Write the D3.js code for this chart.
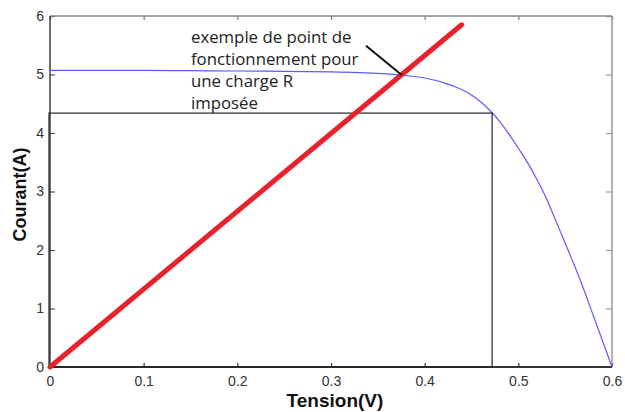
<!DOCTYPE html>
<html>
<head>
<meta charset="utf-8">
<script src="https://cdn.jsdelivr.net/npm/d3@7"></script>
<style>
  body { margin: 0; background: #fff; }
  svg { display: block; }
</style>
</head>
<body>
<div id="chart"></div>
<script>
// caracteristique I-V d'une cellule PV
const tension = [0, 0.05, 0.1, 0.15, 0.2, 0.25, 0.3, 0.35, 0.375, 0.4, 0.42, 0.44, 0.45, 0.46, 0.47, 0.48, 0.49, 0.5, 0.51, 0.52, 0.53, 0.54, 0.55, 0.56, 0.57, 0.58, 0.59, 0.6]
const courant = [5.07, 5.07, 5.07, 5.065, 5.06, 5.055, 5.045, 5.02, 4.99, 4.94, 4.86, 4.74, 4.65, 4.53, 4.38, 4.2, 3.98, 3.74, 3.49, 3.2, 2.88, 2.5, 2.12, 1.73, 1.32, 0.88, 0.44, 0]

// droite de charge R
const chargeV = [0, 0.4395]
const chargeI = [0, 5.85]

// rectangle (point de puissance)
const rectV = [0, 0.472]
const rectI = [0, 4.34]

// annotation
const noteLines = ["exemple de point de", "fonctionnement pour", "une charge R", "imposée"]
const notePos = [0.1505, 5.545]
const arrowV = [0.3374, 0.3755]
const arrowI = [5.49, 4.99]

const xTicks = [0, 0.1, 0.2, 0.3, 0.4, 0.5, 0.6]
const yTicks = [0, 1, 2, 3, 4, 5, 6]

const width = 625, height = 412
const margin = {top: 16, right: 13, bottom: 45, left: 50}

const svg = d3.select('#chart').append('svg')
  .attr('width', width)
  .attr('height', height)

const x = d3.scaleLinear().domain([0, 0.6]).range([margin.left, width - margin.right])
const y = d3.scaleLinear().domain([0, 6]).range([height - margin.bottom, margin.top])

// axes façon matlab
const styleAxis = (g, col) => {
  g.select('.domain').remove()
  g.selectAll('.tick line').attr('stroke', col).attr('stroke-width', 1.2)
  g.selectAll('.tick text').attr('fill', '#333').style('font', '14px "Liberation Sans", Arial, sans-serif')
}

svg.append('g')
  .attr('transform', `translate(0,${y(0)})`)
  .call(d3.axisBottom(x).tickValues(xTicks).tickSize(-4).tickPadding(9).tickFormat(d => d === 0 ? '0' : d3.format('.1f')(d)))
  .call(g => styleAxis(g, '#333'))

svg.append('g')
  .attr('transform', `translate(${x(0)},0)`)
  .call(d3.axisLeft(y).tickValues(yTicks).tickSize(-5).tickPadding(6).tickFormat(d3.format('d')))
  .call(g => styleAxis(g, '#555'))

svg.append('g')
  .attr('transform', `translate(0,${y(6)})`)
  .call(d3.axisTop(x).tickValues(xTicks).tickSize(-4).tickFormat(''))
  .call(g => styleAxis(g, '#777'))

svg.append('g')
  .attr('transform', `translate(${x(0.6)},0)`)
  .call(d3.axisRight(y).tickValues(yTicks).tickSize(-6).tickFormat(''))
  .call(g => styleAxis(g, '#999'))

// cadre
svg.append('line').attr('x1', x(0)).attr('x2', x(0.6)).attr('y1', y(6)).attr('y2', y(6))
  .attr('stroke', '#888').attr('stroke-width', 1.5)
svg.append('line').attr('x1', x(0.6)).attr('x2', x(0.6)).attr('y1', y(6)).attr('y2', y(0))
  .attr('stroke', '#999').attr('stroke-width', 1.5)
svg.append('line').attr('x1', x(0)).attr('x2', x(0)).attr('y1', y(6)).attr('y2', y(0))
  .attr('stroke', '#222').attr('stroke-width', 1.3)
svg.append('line').attr('x1', x(0)).attr('x2', x(0.6)).attr('y1', y(0)).attr('y2', y(0))
  .attr('stroke', '#333').attr('stroke-width', 2)

// courbe I-V
const pts = tension.map((v, i) => [v, courant[i]])
svg.append('path')
  .datum(pts)
  .attr('fill', 'none')
  .attr('stroke', '#5b5bff')
  .attr('stroke-width', 1.2)
  .attr('d', d3.line().x(d => x(d[0])).y(d => y(d[1])).curve(d3.curveCatmullRom))

// rectangle
svg.append('rect')
  .attr('x', x(rectV[0]) - 1)
  .attr('y', y(rectI[1]))
  .attr('width', x(rectV[1]) - x(rectV[0]) + 1)
  .attr('height', y(rectI[0]) - y(rectI[1]))
  .attr('fill', 'none')
  .attr('stroke', '#222')
  .attr('stroke-width', 1.2)

// annotation texte
const note = svg.append('text')
  .attr('x', x(notePos[0]))
  .attr('y', y(notePos[1]))
  .attr('fill', '#222')
  .style('font', '16.8px "Open Sans", sans-serif')
noteLines.forEach((t, i) => {
  note.append('tspan').attr('x', x(notePos[0])).attr('dy', i === 0 ? 0 : 22.2).text(t)
})

// droite de charge
svg.append('line')
  .attr('x1', x(chargeV[0])).attr('y1', y(chargeI[0]))
  .attr('x2', x(chargeV[1])).attr('y2', y(chargeI[1]))
  .attr('stroke', '#e8222b')
  .attr('stroke-width', 5)
  .attr('stroke-linecap', 'round')

// trait de l'annotation
svg.append('line')
  .attr('x1', x(arrowV[0])).attr('y1', y(arrowI[0]))
  .attr('x2', x(arrowV[1])).attr('y2', y(arrowI[1]))
  .attr('stroke', '#111')
  .attr('stroke-width', 2)

// titres des axes
svg.append('text')
  .attr('x', (x(0) + x(0.6)) / 2 + 4)
  .attr('y', 407)
  .attr('text-anchor', 'middle')
  .attr('fill', '#111')
  .style('font', 'bold 19px "Liberation Sans", Arial, sans-serif')
  .text('Tension(V)')

svg.append('text')
  .attr('transform', `translate(26,${y(2.95)}) rotate(-90)`)
  .attr('text-anchor', 'middle')
  .attr('fill', '#111')
  .style('font', 'bold 18px "Liberation Sans", Arial, sans-serif')
  .text('Courant(A)')
</script>
</body>
</html>
